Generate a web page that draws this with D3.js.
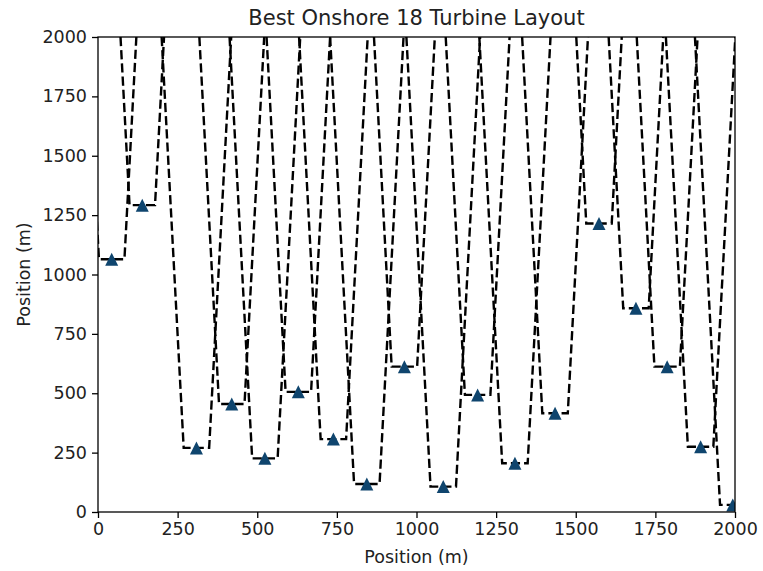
<!DOCTYPE html>
<html>
<head>
<meta charset="utf-8">
<script src="https://cdn.jsdelivr.net/npm/d3@7"></script>
<style>
  html, body { margin: 0; padding: 0; background: #fff; }
  svg { display: block; font-family: "DejaVu Sans", sans-serif; }
</style>
</head>
<body>
<svg id="chart" width="763" height="571"></svg>
<script>
// Turbine positions (m)
const turbineX = [43, 139, 309, 420, 524, 629, 739, 844, 962, 1084, 1192, 1309, 1435, 1573, 1689, 1787, 1892, 1993];
const turbineY = [1064, 1292, 270, 455, 226, 506, 307, 118, 612, 107, 493, 205, 416, 1215, 858, 612, 275, 30];

// Axis ticks
const xTicks = [0, 250, 500, 750, 1000, 1250, 1500, 1750, 2000];
const yTicks = [0, 250, 500, 750, 1000, 1250, 1500, 1750, 2000];

// Wake model: rotor radius and linear wake expansion
const rotorRadius = 40;
const wakeDecay = 0.04;
const siteSize = 2000;

const svg = d3.select("#chart");
const margin = { left: 98, right: 28, top: 37, bottom: 59 };
const W = 763, H = 571;

const x = d3.scaleLinear().domain([0, siteSize]).range([margin.left, W - margin.right]);
const y = d3.scaleLinear().domain([0, siteSize]).range([H - margin.bottom, margin.top]);

svg.append("defs").append("clipPath").attr("id", "plot-clip")
  .append("rect")
  .attr("x", x(0)).attr("y", y(siteSize))
  .attr("width", x(siteSize) - x(0)).attr("height", y(0) - y(siteSize));

const turbines = turbineX.map((tx, i) => ({ x: tx, y: turbineY[i] }));

// Wake outlines: flat across the rotor, then widening downstream to the site edge
const wakeLine = d3.line().x(d => x(d[0])).y(d => y(d[1]));
const plot = svg.append("g").attr("clip-path", "url(#plot-clip)");

plot.selectAll("path.wake")
  .data(turbines)
  .join("path")
  .attr("class", "wake")
  .attr("d", t => {
    const spread = rotorRadius + wakeDecay * (siteSize - t.y);
    return wakeLine([
      [t.x - spread, siteSize],
      [t.x - rotorRadius, t.y],
      [t.x + rotorRadius, t.y],
      [t.x + spread, siteSize]
    ]);
  })
  .attr("fill", "none")
  .attr("stroke", "#000")
  .attr("stroke-width", 2.4)
  .attr("stroke-dasharray", "9.2,4");

// Turbine markers
plot.selectAll("path.turbine")
  .data(turbines)
  .join("path")
  .attr("class", "turbine")
  .attr("transform", t => `translate(${x(t.x)},${y(t.y)})`)
  .attr("d", "M0,-6.5L6.5,6.5L-6.5,6.5Z")
  .attr("fill", "#0f456e");

// Axes
const xAxis = d3.axisBottom(x).tickValues(xTicks).tickSize(6).tickPadding(5).tickFormat(d3.format("d"));
const yAxis = d3.axisLeft(y).tickValues(yTicks).tickSize(6).tickPadding(5).tickFormat(d3.format("d"));

const gx = svg.append("g").attr("transform", `translate(0,${y(0)})`).call(xAxis);
const gy = svg.append("g").attr("transform", `translate(${x(0)},0)`).call(yAxis);

[gx, gy].forEach(g => {
  g.select(".domain").remove();
  g.selectAll(".tick line").attr("stroke", "#000").attr("stroke-width", 1.3);
  g.selectAll(".tick text").attr("fill", "#222").style("font-size", "17.5px").style("font-family", "DejaVu Sans");
});

// Frame
svg.append("rect")
  .attr("x", x(0)).attr("y", y(siteSize))
  .attr("width", x(siteSize) - x(0)).attr("height", y(0) - y(siteSize))
  .attr("fill", "none").attr("stroke", "#000").attr("stroke-width", 1.3);

// Labels
svg.append("text")
  .attr("x", (x(0) + x(siteSize)) / 2).attr("y", 25)
  .attr("text-anchor", "middle").attr("fill", "#222")
  .style("font-size", "21px")
  .text("Best Onshore 18 Turbine Layout");

svg.append("text")
  .attr("x", (x(0) + x(siteSize)) / 2).attr("y", 563)
  .attr("text-anchor", "middle").attr("fill", "#222")
  .style("font-size", "17.5px")
  .text("Position (m)");

svg.append("text")
  .attr("transform", `translate(30,${(y(0) + y(siteSize)) / 2}) rotate(-90)`)
  .attr("text-anchor", "middle").attr("fill", "#222")
  .style("font-size", "17.5px")
  .text("Position (m)");
</script>
</body>
</html>
